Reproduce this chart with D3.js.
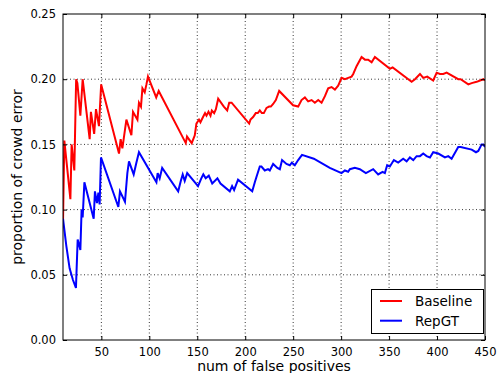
<!DOCTYPE html>
<html>
<head>
<meta charset="utf-8">
<script src="https://cdn.jsdelivr.net/npm/d3@7"></script>
<style>
  body { margin: 0; background: #fff; }
  svg { display: block; }
  text { font-family: "DejaVu Sans", sans-serif; fill: #000; }
</style>
</head>
<body>
<div id="view"></div>
<script>
// Baseline (red) [num of false positives, proportion]
var baseline = [
  [10,0.090],[11.4,0.153],[17.7,0.108],[19.0,0.150],[21.8,0.130],[23.7,0.200],[25.0,0.197],
  [28.1,0.172],[30.5,0.200],[37.8,0.154],[39.1,0.175],[42.5,0.158],[44.4,0.177],[47.5,0.164],
  [49.8,0.196],[68.4,0.143],[70.1,0.154],[71.9,0.147],[76.1,0.169],[81.3,0.157],[83.0,0.175],
  [87.6,0.169],[89.2,0.182],[91.3,0.179],[92.8,0.193],[95.2,0.190],[97.0,0.196],[98.6,0.202],
  [107.2,0.186],[109.8,0.191],[138.0,0.151],[139.3,0.156],[144.2,0.151],[147.4,0.157],
  [149.1,0.166],[151.8,0.169],[153.3,0.167],[156.0,0.171],[158.1,0.174],[159.6,0.172],
  [161.7,0.175],[163.8,0.172],[165.2,0.176],[167.6,0.174],[169.4,0.177],[171.8,0.185],
  [177.7,0.179],[181.2,0.176],[183.3,0.182],[185.8,0.182],[204.1,0.166],[205.5,0.169],
  [208.2,0.171],[211.0,0.174],[213.1,0.174],[215.2,0.176],[217.3,0.174],[219.4,0.174],
  [222.2,0.178],[224.9,0.179],[226.7,0.179],[229.1,0.181],[231.9,0.184],[235.4,0.191],
  [249.9,0.180],[255.2,0.179],[258.7,0.184],[262.2,0.186],[265.6,0.183],[269.2,0.184],
  [272.6,0.182],[276.1,0.184],[279.6,0.182],[283.1,0.187],[286.5,0.193],[290.0,0.194],
  [293.5,0.192],[296.9,0.195],[300.5,0.201],[303.9,0.200],[307.4,0.201],[310.9,0.202],
  [312.6,0.204],[316.1,0.210],[321.3,0.217],[324.8,0.215],[328.2,0.215],[331.8,0.213],
  [335.2,0.217],[350.9,0.208],[353.7,0.209],[373.5,0.198],[377.0,0.200],[382.2,0.204],
  [385.6,0.201],[389.8,0.202],[396.0,0.199],[399.6,0.205],[403.0,0.204],[406.5,0.204],
  [410.0,0.205],[422.1,0.200],[424.6,0.200],[432.6,0.196],[436.1,0.197],[441.3,0.198],
  [444.8,0.199],[448.2,0.200],[450,0.199]
];

// RepGT (blue)
var repgt = [
  [10,0.093],[13.5,0.072],[16.9,0.055],[20.4,0.046],[23.5,0.040],[25.3,0.077],[26.8,0.073],
  [28.1,0.069],[29.4,0.100],[30.5,0.094],[32.3,0.121],[42.0,0.093],[43.3,0.114],[45.4,0.105],
  [46.9,0.113],[48.2,0.104],[49.6,0.140],[67.7,0.102],[69.4,0.114],[74.6,0.106],[77.1,0.128],
  [78.8,0.137],[83.7,0.127],[86.5,0.136],[89.2,0.144],[107.4,0.121],[108.7,0.128],[110.8,0.124],
  [113.4,0.132],[130.1,0.114],[132.8,0.122],[134.8,0.127],[136.9,0.122],[139.5,0.128],
  [150.8,0.118],[154.2,0.124],[156.3,0.127],[158.8,0.124],[162.0,0.126],[165.6,0.120],
  [171.0,0.124],[174.2,0.120],[183.9,0.114],[186.3,0.118],[188.4,0.115],[192.5,0.123],
  [207.3,0.114],[210.0,0.121],[211.7,0.125],[215.2,0.133],[216.9,0.133],[220.4,0.130],
  [223.8,0.131],[225.6,0.130],[229.1,0.135],[233.5,0.132],[236.1,0.131],[238.4,0.138],
  [243.0,0.135],[246.5,0.134],[248.6,0.136],[251.7,0.134],[255.2,0.138],[259.2,0.142],
  [271.5,0.139],[288.2,0.132],[300.4,0.128],[303.9,0.130],[307.3,0.129],[309.1,0.131],
  [314.3,0.132],[319.5,0.131],[325.8,0.128],[333.4,0.131],[338.6,0.127],[343.2,0.129],
  [345.6,0.128],[348.0,0.134],[350.8,0.133],[355.0,0.138],[359.5,0.136],[364.7,0.139],
  [368.3,0.137],[371.7,0.140],[375.2,0.138],[378.7,0.141],[382.2,0.141],[385.6,0.143],
  [389.1,0.141],[392.6,0.140],[396.0,0.144],[401.3,0.143],[408.2,0.140],[411.7,0.141],
  [415.2,0.139],[422.1,0.148],[424.6,0.148],[436.1,0.146],[440.6,0.144],[443.0,0.145],
  [446.5,0.150],[448.2,0.150],[450,0.148]
];

var xTicks = [50, 100, 150, 200, 250, 300, 350, 400, 450];
var yTicks = [0.00, 0.05, 0.10, 0.15, 0.20, 0.25];
var seriesNames = ['Baseline', 'RepGT'];
var seriesColors = ['#ff0000', '#0000ff'];

var W = 498, H = 373;
var mLeft = 63, mRight = 485, mTop = 14, mBottom = 340;

var x = d3.scaleLinear().domain([10, 450]).range([mLeft, mRight]);
var y = d3.scaleLinear().domain([0, 0.25]).range([mBottom, mTop]);

var svg = d3.select('#view').append('svg').attr('width', W).attr('height', H);

// grid
svg.append('g').selectAll('line').data(xTicks.slice(0, -1)).enter().append('line')
  .attr('x1', x).attr('x2', x).attr('y1', mTop).attr('y2', mBottom)
  .attr('stroke', '#000').attr('stroke-width', 0.8).attr('stroke-dasharray', '1,2.5');
svg.append('g').selectAll('line').data(yTicks.slice(1, -1)).enter().append('line')
  .attr('y1', y).attr('y2', y).attr('x1', mLeft).attr('x2', mRight)
  .attr('stroke', '#000').attr('stroke-width', 0.8).attr('stroke-dasharray', '1,2.5');

// lines
var line = d3.line().x(function(d) { return x(d[0]); }).y(function(d) { return y(d[1]); });
svg.append('clipPath').attr('id', 'clip').append('rect')
  .attr('x', mLeft).attr('y', mTop).attr('width', mRight - mLeft).attr('height', mBottom - mTop);
[baseline, repgt].forEach(function(s, i) {
  svg.append('path').datum(s).attr('d', line).attr('fill', 'none')
    .attr('stroke', seriesColors[i]).attr('stroke-width', 2)
    .attr('stroke-linejoin', 'miter').attr('clip-path', 'url(#clip)');
});

// axes, ticks pointing inward on all four sides
var tl = 4;
svg.append('g').attr('transform', 'translate(0,' + mBottom + ')')
  .call(d3.axisBottom(x).tickValues(xTicks).tickSizeInner(-tl).tickSizeOuter(0).tickPadding(8).tickFormat(d3.format('d')));
svg.append('g').attr('transform', 'translate(0,' + mTop + ')')
  .call(d3.axisTop(x).tickValues(xTicks).tickSizeInner(-tl).tickSizeOuter(0).tickFormat(''));
svg.append('g').attr('transform', 'translate(' + mLeft + ',0)')
  .call(d3.axisLeft(y).tickValues(yTicks).tickSizeInner(-tl).tickSizeOuter(0).tickPadding(7).tickFormat(d3.format('.2f')));
svg.append('g').attr('transform', 'translate(' + mRight + ',0)')
  .call(d3.axisRight(y).tickValues(yTicks).tickSizeInner(-tl).tickSizeOuter(0).tickFormat(''));
svg.selectAll('.domain').remove();
svg.selectAll('.tick line').attr('stroke', '#000').attr('stroke-width', 1);
svg.selectAll('.tick text').attr('font-family', '"DejaVu Sans", sans-serif').attr('font-size', 11.5).attr('fill', '#000');

svg.append('rect').attr('x', mLeft).attr('y', mTop).attr('width', mRight - mLeft).attr('height', mBottom - mTop)
  .attr('fill', 'none').attr('stroke', '#000').attr('stroke-width', 1);

// axis labels
svg.append('text').attr('x', (mLeft + mRight) / 2).attr('y', 371).attr('text-anchor', 'middle')
  .attr('font-size', 14).text('num of false positives');
svg.append('text').attr('transform', 'translate(22,' + ((mTop + mBottom) / 2) + ') rotate(-90)')
  .attr('text-anchor', 'middle').attr('font-size', 14).text('proportion of crowd error');

// legend
var lg = svg.append('g');
lg.append('rect').attr('x', 371.5).attr('y', 289.5).attr('width', 112).attr('height', 44)
  .attr('fill', '#fff').attr('stroke', '#000').attr('stroke-width', 1);
seriesNames.forEach(function(n, i) {
  var yy = 301 + i * 19.7;
  lg.append('line').attr('x1', 380).attr('x2', 402).attr('y1', yy).attr('y2', yy)
    .attr('stroke', seriesColors[i]).attr('stroke-width', 2);
  lg.append('text').attr('x', 415).attr('y', yy + 5).attr('font-size', 13.5).text(n);
});
</script>
</body>
</html>
